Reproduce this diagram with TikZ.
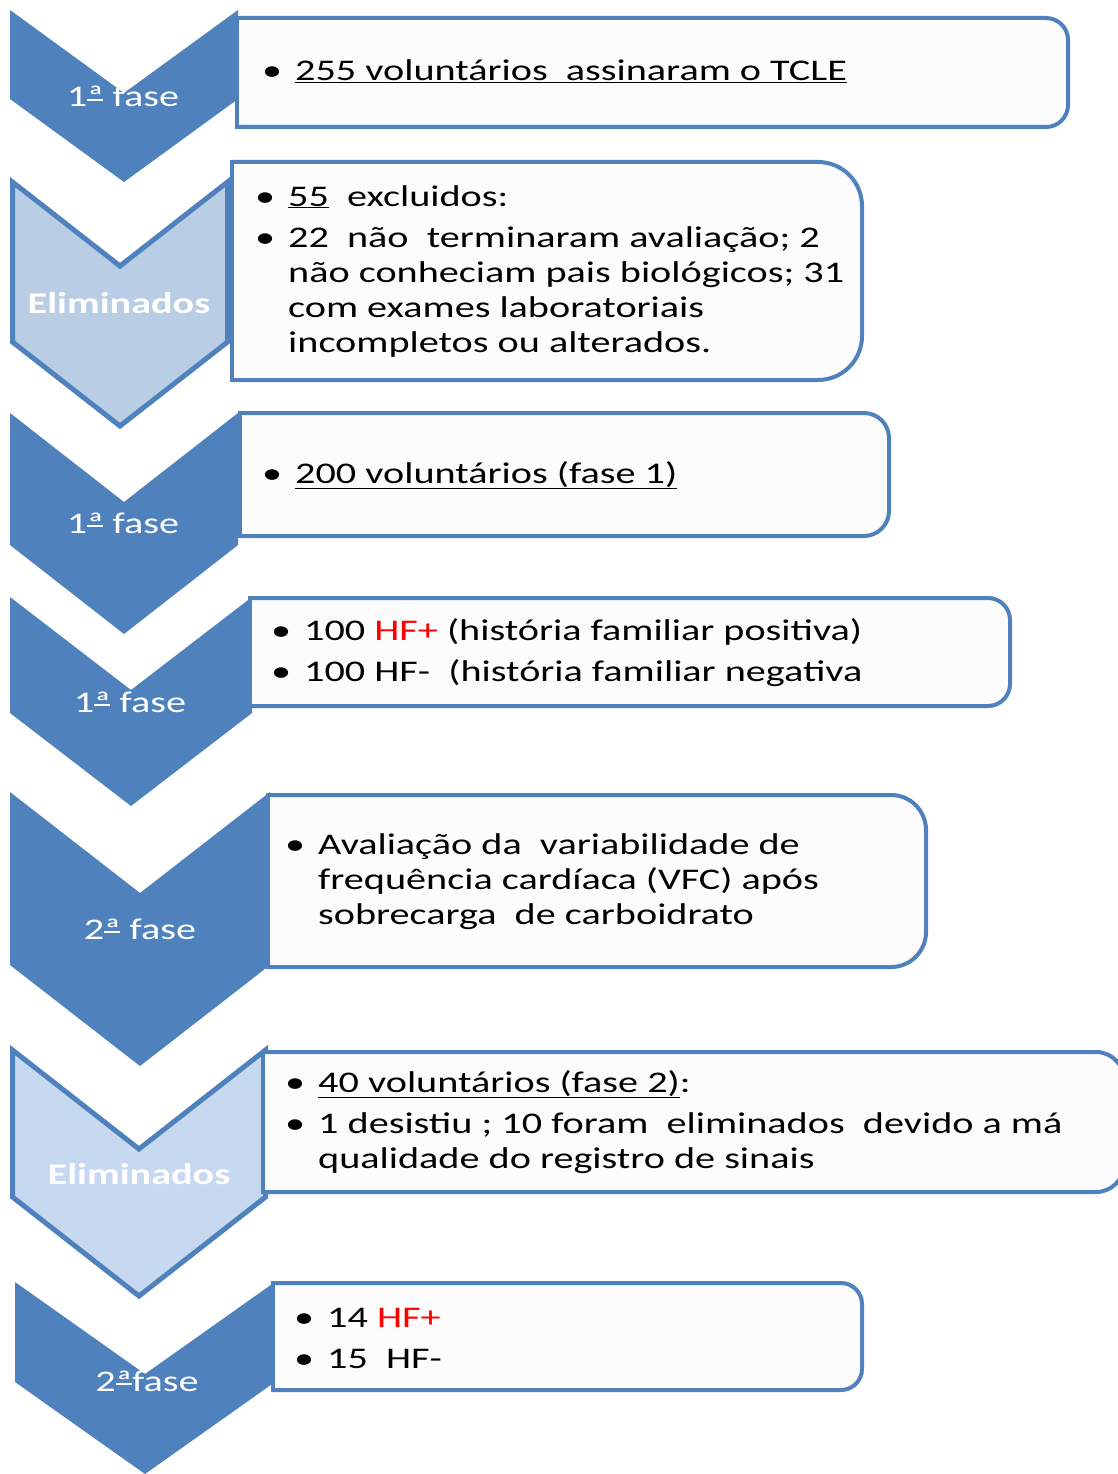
\documentclass[tikz,border=0pt]{standalone}
\usepackage{fontspec}
\setmainfont{Carlito}[FakeStretch=1.34]
\usepackage{xcolor}

\definecolor{chevblue}{RGB}{79,129,189}
\definecolor{elimA}{RGB}{185,205,229}
\definecolor{elimB}{RGB}{198,217,241}
\definecolor{boxfill}{RGB}{252,252,252}

\newcommand{\bul}{\makebox[0pt][c]{\textbullet}\hspace{23pt}}
\newcommand{\ind}{\hspace*{23pt}}
\newcommand{\hfp}{\textcolor{red}{HF+}}
\newcommand{\ord}{\leavevmode\setbox0\hbox{ª}\rlap{\rule[6pt]{\wd0}{1.6pt}}\box0}
\newcommand{\chev}[6]{\filldraw[#1] (#2,#4) -- ({(#2+#3)/2},#4+#6) -- (#3,#4) -- (#3,#5) -- ({(#2+#3)/2},#5+#6) -- (#2,#5) -- cycle;}
\newcommand{\infobox}[5]{%
  \filldraw[boxline, rounded corners=#5] (#1,#3) -- (#2,#3) -- (#2,#4) -- (#1,#4);
  \draw[boxline, line cap=rect] (#1,#3) -- (#1,#4);}

\begin{document}
\begin{tikzpicture}[x=1pt, y=-1pt,
  boxline/.style={draw=chevblue, fill=boxfill, line width=4pt},
  darkchev/.style={fill=chevblue, draw=none},
  lightchev/.style={fill=#1, draw=chevblue, line width=5pt, line join=miter},
  chevlabel/.style={anchor=base, text=white, inner sep=0pt, font=\fontsize{30}{35}\selectfont},
  itemtext/.style={anchor=base west, align=left, inner sep=0pt, font=\fontsize{30}{35}\selectfont}]
\useasboundingbox (0,0) rectangle (1118,1474);

\chev{darkchev}{10}{238}{10}{99}{83}
\chev{lightchev=elimA}{12.5}{227.5}{182}{342}{84}
\chev{darkchev}{10}{238}{413}{545}{89}
\chev{darkchev}{10}{252}{597}{713}{93}
\chev{darkchev}{10}{270}{792}{965}{101}
\chev{lightchev=elimB}{12.5}{265.5}{1050}{1197}{99}
\chev{darkchev}{15}{275}{1282}{1382}{92}

\infobox{237}{1068}{18}{127}{22}
\infobox{232}{862}{162}{380}{44}
\infobox{240}{889}{413}{536}{25}
\infobox{250}{1010}{598}{706}{22}
\infobox{268}{926}{795}{967}{35}
\infobox{263}{1124}{1052}{1192}{28}
\infobox{273}{862}{1283}{1390}{21}

\node[chevlabel] (fase1a) at (123,107) {1\ord{} fase};
\node[chevlabel] (elim1) at (119,313) {\bfseries Eliminados};
\node[chevlabel] (fase1b) at (123,533) {1\ord{} fase};
\node[chevlabel] (fase1c) at (130,712) {1\ord{} fase};
\node[chevlabel] (fase2a) at (140,939) {2\ord{} fase};
\node[chevlabel] (elim2) at (139,1184) {\bfseries Eliminados};
\node[chevlabel] (fase2b) at (147,1391) {2\ord{}fase};

\node[itemtext] (tcle) at (272,81) {\bul\underline{255 voluntários~ assinaram o TCLE}};
\node[itemtext] (excl) at (265,352) {\bul\underline{55}~ excluidos:\\[6pt]\bul 22~ não~ terminaram avaliação; 2\\\ind não conheciam pais biológicos; 31\\\ind com exames laboratoriais\\\ind incompletos ou alterados.};
\node[itemtext] (vol1) at (272,483) {\bul\underline{200 voluntários (fase 1)}};
\node[itemtext] (hist) at (281,681) {\bul 100 \hfp{} (história familiar positiva)\\[6pt]\bul 100 HF-~ (história familiar negativa};
\node[itemtext] (vfc) at (295,924) {\bul Avaliação da~ variabilidade de\\\ind frequência cardíaca (VFC) após\\\ind sobrecarga~ de carboidrato};
\node[itemtext] (vol2) at (295,1168) {\bul\underline{40 voluntários (fase 2)}:\\[6pt]\bul 1 desistiu ; 10 foram~ eliminados~ devido a má\\\ind qualidade do registro de sinais};
\node[itemtext] (final) at (304,1368) {\bul 14 \hfp\\[6pt]\bul 15~ HF-};
\end{tikzpicture}
\end{document}
